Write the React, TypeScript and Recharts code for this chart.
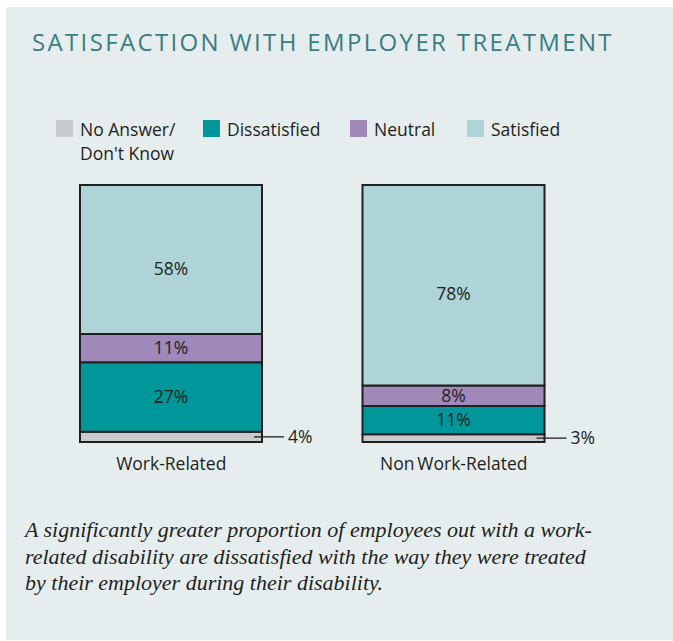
import { Bar, BarChart, LabelList, XAxis, YAxis } from "recharts";

const GROUPS = ["Work-Related", "Non\u2009Work-Related"];
const NO_ANSWER = [4, 3];
const DISSATISFIED = [27, 11];
const NEUTRAL = [11, 8];
const SATISFIED = [58, 78];

const SERIES = [
  { key: "noAnswer", name: "No Answer/\nDon't Know", color: "#c9cacc" },
  { key: "dissatisfied", name: "Dissatisfied", color: "#00979b" },
  { key: "neutral", name: "Neutral", color: "#9e89b9" },
  { key: "satisfied", name: "Satisfied", color: "#afd4d7" },
];

const data = GROUPS.map((g, i) => ({
  group: g,
  noAnswer: NO_ANSWER[i],
  dissatisfied: DISSATISFIED[i],
  neutral: NEUTRAL[i],
  satisfied: SATISFIED[i],
}));

const FONT = "'Open Sans', 'Noto Sans', sans-serif";
const INK = "#231f20";
const LEGEND_X = [56, 203, 350, 467];

const pct = (v: number) => `${v}%`;

function LegendBox() {
  return (
    <div style={{ position: "absolute", left: 0, top: 117, fontFamily: FONT, fontSize: 17.5, color: INK }}>
      {SERIES.map((s, i) => (
        <div key={s.key} style={{ position: "absolute", left: LEGEND_X[i], top: 0, display: "flex" }}>
          <div style={{ width: 17, height: 17, background: s.color, marginTop: 3, marginRight: 7 }} />
          <div style={{ whiteSpace: "pre", lineHeight: "24px" }}>{s.name}</div>
        </div>
      ))}
    </div>
  );
}

// small slice: label sits outside the bar with a leader line
function OutsideLabel(props: any) {
  const { x, y, width, height, value } = props;
  const cy = y + height / 2;
  const x1 = x + width - 8;
  const x2 = x + width + 22;
  return (
    <g>
      <line x1={x1} y1={cy} x2={x2} y2={cy} stroke={INK} strokeWidth={1.3} />
      <text x={x2 + 4} y={cy} dy={6} fontFamily={FONT} fontSize={17.5} fill={INK}>
        {pct(value)}
      </text>
    </g>
  );
}

export default function App() {
  return (
    <div style={{ position: "absolute", left: 0, top: 0, width: 673, height: 641, background: "#fff" }}>
      <div style={{ position: "absolute", left: 6, top: 7, width: 667, height: 633, background: "#e5edee" }} />
      <div
        style={{
          position: "absolute",
          left: 32,
          top: 25,
          fontFamily: FONT,
          fontSize: 24,
          letterSpacing: 2.35,
          color: "#3a7c82",
          whiteSpace: "nowrap",
        }}
      >
        SATISFACTION WITH EMPLOYER TREATMENT
      </div>
      <LegendBox />
      <div style={{ position: "absolute", left: 0, top: 0 }}>
        <BarChart
          width={673}
          height={641}
          data={data}
          margin={{ top: 185, right: 78, bottom: 169, left: 30 }}
          barSize={182}
        >
          <YAxis hide domain={[0, 100]} />
          <XAxis
            dataKey="group"
            axisLine={false}
            tickLine={false}
            height={30}
            tick={{ fontFamily: FONT, fontSize: 17.5, fill: INK, dy: 8 }}
          />
          {SERIES.map((s) => (
            <Bar
              key={s.key}
              dataKey={s.key}
              name={s.name}
              stackId="a"
              fill={s.color}
              stroke={INK}
              strokeWidth={2}
              isAnimationActive={false}
            >
              {s.key === "noAnswer" ? (
                <LabelList dataKey={s.key} content={<OutsideLabel />} />
              ) : (
                <LabelList
                  dataKey={s.key}
                  position="center"
                  formatter={pct}
                  offset={0}
                  dy={s.key === "satisfied" ? 9 : 0}
                  style={{ fontFamily: FONT, fontSize: 17.5, fill: INK }}
                />
              )}
            </Bar>
          ))}
        </BarChart>
      </div>
      <div
        style={{
          position: "absolute",
          left: 25,
          top: 517,
          width: 640,
          fontFamily: "'Liberation Serif', 'DejaVu Serif', serif",
          fontStyle: "italic",
          fontSize: 22,
          lineHeight: "26.5px",
          color: INK,
          whiteSpace: "pre",
        }}
      >
        {"A significantly greater proportion of employees out with a work-\nrelated disability are dissatisfied with the way they were treated\nby their employer during their disability."}
      </div>
    </div>
  );
}
